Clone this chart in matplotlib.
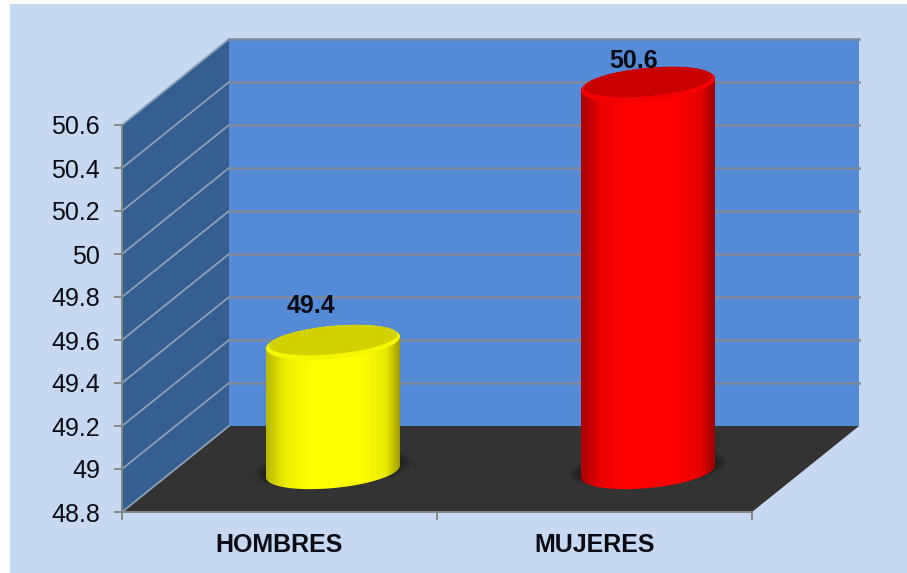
import numpy as np
import matplotlib
matplotlib.use('Agg')
import matplotlib.pyplot as plt
from matplotlib.colors import LinearSegmentedColormap
from matplotlib.patches import Polygon, Rectangle

categories = ['HOMBRES', 'MUJERES']
values = [49.4, 50.6]
y_ticks = [48.8, 49, 49.2, 49.4, 49.6, 49.8, 50, 50.2, 50.4, 50.6]
y_tick_labels = ['48.8', '49', '49.2', '49.4', '49.6', '49.8', '50', '50.2', '50.4', '50.6']

grad_stops = [0, 0.15, 0.35, 0.7, 0.9, 1]
body_colors = [
    ['#b8b800', '#f0f000', '#ffff00', '#ffff00', '#e8e800', '#9c9c00'],
    ['#a80000', '#ec0000', '#ff0000', '#ff0000', '#e40000', '#980000'],
]
rim_colors = ['#f6f600', '#f40000']
top_colors = ['#d2d200', '#c80000']
label_shift = [(-0.07, 0.358), (-0.045, 0.298)]

W, H = 907, 573
LEFT, RIGHT, TOP, BOTTOM = 122, 752, 125, 512
GRID = '#7d8a9c'
AXIS = '#868686'
INK = '#0b0b16'

plt.rcParams['font.family'] = ['Liberation Sans', 'DejaVu Sans']

fig = plt.figure(figsize=(W / 100, H / 100), dpi=100, facecolor='white')
fig.patches.append(Rectangle((10 / W, 0), 1, 1 - 4 / H, transform=fig.transFigure,
                             facecolor='#c6d9f1', edgecolor='none', zorder=-5))

ax = fig.add_axes([LEFT / W, (H - BOTTOM) / H, (RIGHT - LEFT) / W, (BOTTOM - TOP) / H])
ax.patch.set_visible(False)

ymin, ymax = y_ticks[0], y_ticks[-1]
xmin, xmax = 0, len(categories)

# depth of the fake 3d box, in data units
dx = 107 / 315
dy = 86 / 215

# walls and floor
ax.add_patch(Polygon([(xmin + dx, ymin + dy), (xmax + dx, ymin + dy), (xmax + dx, ymax + dy), (xmin + dx, ymax + dy)],
                     facecolor='#558ad6', edgecolor='none', clip_on=False, zorder=1))
ax.add_patch(Polygon([(xmin, ymin), (xmin + dx, ymin + dy), (xmin + dx, ymax + dy), (xmin, ymax)],
                     facecolor='#355f90', edgecolor='none', clip_on=False, zorder=1))
ax.add_patch(Polygon([(xmin, ymin), (xmax, ymin), (xmax + dx, ymin + dy), (xmin + dx, ymin + dy)],
                     facecolor='#333333', edgecolor='none', clip_on=False, zorder=1))

for t in y_ticks:
    ax.plot([xmin, xmin + dx], [t, t + dy], color='#8da0ba', lw=1.3, clip_on=False, zorder=2)
    if t > ymin:
        ax.plot([xmin + dx, xmax + dx], [t + dy, t + dy], color=GRID, lw=1.8, clip_on=False, zorder=2)


def ellipse(cx, cy, a, b, k, t):
    return cx + a * np.cos(t), cy + b * np.sin(t) + k * np.cos(t)


a = 67 / 315
b = 16.5 / 215
k = 6 / 215
lift = dy / 2 - 0.012

for i, (cat, val) in enumerate(zip(categories, values)):
    cx = i + 0.5 + dx / 2
    base = ymin + lift
    top = val + lift

    # soft shadow on the floor
    for grow, alpha in zip([1.17, 1.13, 1.09, 1.05], [0.2, 0.25, 0.3, 0.4]):
        sx, sy = ellipse(cx, base + 0.015, a * grow, b * grow, k, np.linspace(0, 2 * np.pi, 120))
        ax.add_patch(Polygon(np.column_stack([sx, sy]), facecolor='#1c1c1c', edgecolor='none',
                             alpha=alpha, clip_on=False, zorder=3))

    # body with gradient
    bx, by = ellipse(cx, base, a, b, k, np.linspace(np.pi, 2 * np.pi, 80))
    tx, ty = ellipse(cx, top, a, b, k, np.linspace(0, np.pi, 80))
    body = Polygon(np.column_stack([np.r_[bx, tx], np.r_[by, ty]]), facecolor='none',
                   edgecolor='none', clip_on=False, zorder=4)
    ax.add_patch(body)
    cmap = LinearSegmentedColormap.from_list('body', list(zip(grad_stops, body_colors[i])))
    im = ax.imshow(np.linspace(0, 1, 256)[None, :], cmap=cmap, aspect='auto', zorder=4,
                   extent=[cx - a, cx + a, base - 0.2, top + 0.2], interpolation='bilinear')
    im.set_clip_box(fig.bbox)
    im.set_clip_path(body)

    # top face: lit rim and darker inner part, rim is wider at the front
    ex, ey = ellipse(cx, top, a, b, k, np.linspace(0, 2 * np.pi, 160))
    ax.add_patch(Polygon(np.column_stack([ex, ey]), facecolor=rim_colors[i], edgecolor='none',
                         clip_on=False, zorder=5))
    ex, ey = ellipse(cx, top + 0.012, a * 0.96, b * 0.86, k * 0.96, np.linspace(0, 2 * np.pi, 160))
    ax.add_patch(Polygon(np.column_stack([ex, ey]), facecolor=top_colors[i], edgecolor='none',
                         clip_on=False, zorder=5))

    ax.text(i + 0.5 + dx / 2 + label_shift[i][0], val + label_shift[i][1], str(val), ha='center', va='center',
            fontsize=18, fontweight='bold', color=INK, zorder=6)

ax.set_xlim(xmin, xmax)
ax.set_ylim(ymin, ymax)

ax.set_yticks(y_ticks)
ax.set_yticklabels(y_tick_labels, fontsize=18, color=INK)
ax.set_xticks(range(len(categories) + 1))
ax.set_xticklabels([])
ax.set_xticks(np.arange(len(categories)) + 0.5, minor=True)
ax.set_xticklabels(categories, minor=True, fontsize=18, fontweight='bold', color=INK)
ax.tick_params(axis='y', length=6, width=1.4, color=AXIS, pad=10)
ax.tick_params(axis='x', which='major', length=6, width=1.4, color=AXIS)
ax.tick_params(axis='x', which='minor', length=0, pad=15)

for side in ['top', 'right']:
    ax.spines[side].set_visible(False)
for side in ['left', 'bottom']:
    ax.spines[side].set_color(AXIS)
    ax.spines[side].set_linewidth(1.4)
    ax.spines[side].set_zorder(2.5)

fig.savefig('out.png', dpi=100, facecolor='white')
